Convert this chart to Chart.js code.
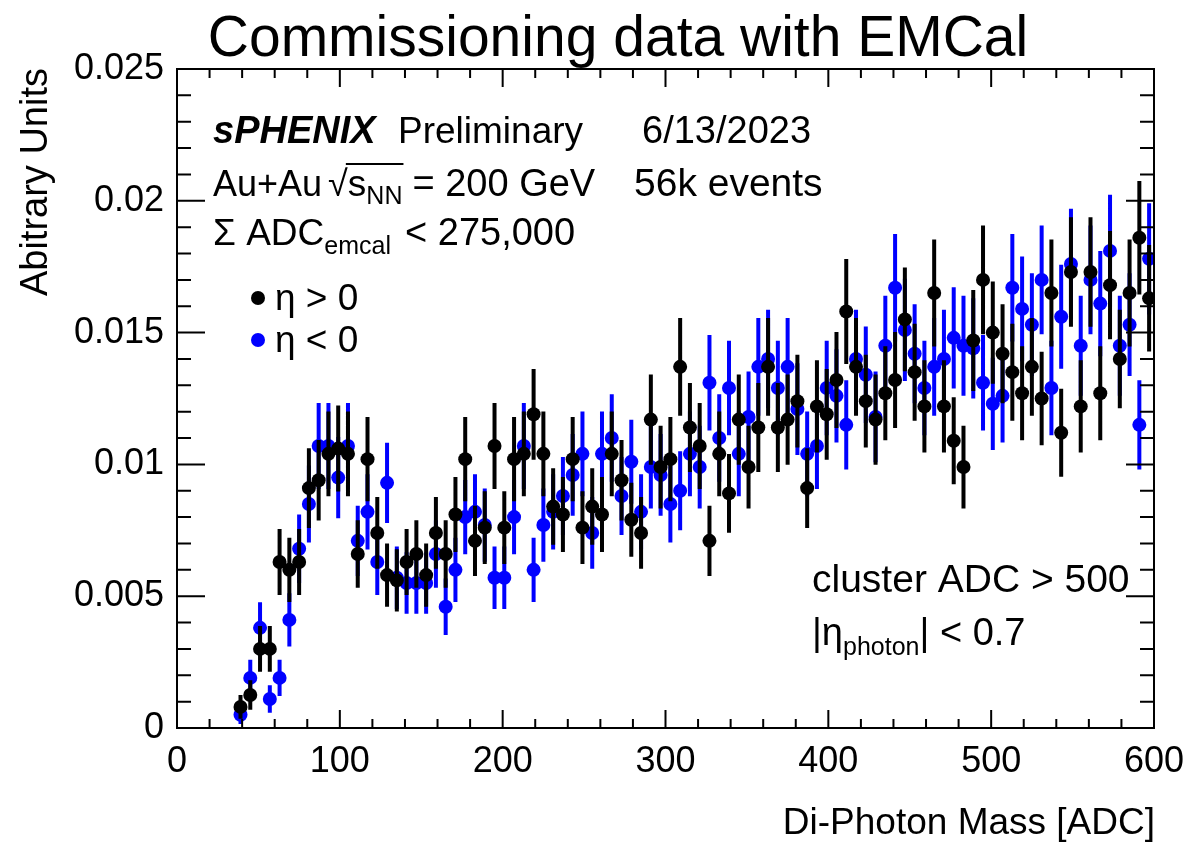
<!DOCTYPE html>
<html>
<head>
<meta charset="utf-8">
<title>Di-photon mass, sPHENIX commissioning</title>
<script src="https://cdn.jsdelivr.net/npm/chart.js@4.4.0/dist/chart.umd.min.js"></script>
<style>
  html, body { margin: 0; padding: 0; background: #fff; }
  canvas { display: block; }
</style>
</head>
<body>
<canvas id="diPhoton" width="1189" height="843"></canvas>
<script>
// bin centres, 6 ADC wide
const massBins = [39, 45, 51, 57, 63, 69, 75, 81, 87, 93,
  99, 105, 111, 117, 123, 129, 135, 141, 147, 153,
  159, 165, 171, 177, 183, 189, 195, 201, 207, 213,
  219, 225, 231, 237, 243, 249, 255, 261, 267, 273,
  279, 285, 291, 297, 303, 309, 315, 321, 327, 333,
  339, 345, 351, 357, 363, 369, 375, 381, 387, 393,
  399, 405, 411, 417, 423, 429, 435, 441, 447, 453,
  459, 465, 471, 477, 483, 489, 495, 501, 507, 513,
  519, 525, 531, 537, 543, 549, 555, 561, 567, 573,
  579, 585, 591, 597];

// eta > 0
const etaPos = [0.0008, 0.00125, 0.0030, 0.0030, 0.0063, 0.0060, 0.0063, 0.0091, 0.0094, 0.0104,
  0.0106, 0.0104, 0.0066, 0.0102, 0.0074, 0.0058, 0.0056, 0.0063, 0.0066, 0.0058,
  0.0074, 0.0066, 0.0081, 0.0102, 0.0071, 0.0076, 0.0107, 0.0076, 0.0102, 0.0104,
  0.0119, 0.0104, 0.0084, 0.0081, 0.0102, 0.0076, 0.0084, 0.0081, 0.0104, 0.0094,
  0.0079, 0.0074, 0.0117, 0.0099, 0.0102, 0.0137, 0.0114, 0.0107, 0.0071, 0.0104,
  0.0089, 0.0117, 0.0099, 0.0114, 0.0137, 0.0114, 0.0117, 0.0124, 0.0091, 0.0122,
  0.0119, 0.0132, 0.0158, 0.0137, 0.0124, 0.0117, 0.0127, 0.0132, 0.0155, 0.0135,
  0.0122, 0.0165, 0.0122, 0.0109, 0.0099, 0.0147, 0.0170, 0.0150, 0.0142, 0.0135,
  0.0127, 0.0137, 0.0125, 0.0165, 0.0112, 0.0173, 0.0122, 0.0173, 0.0127, 0.0168,
  0.0140, 0.0165, 0.0186, 0.0163];
const etaPosErr = [0.00045, 0.00056, 0.00087, 0.00087, 0.00125, 0.00122, 0.00125, 0.00151, 0.00153, 0.00161,
  0.00163, 0.00161, 0.00128, 0.0016, 0.00136, 0.0012, 0.00118, 0.00125, 0.00128, 0.0012,
  0.00136, 0.00128, 0.00142, 0.0016, 0.00133, 0.00138, 0.00163, 0.00138, 0.0016, 0.00161,
  0.00172, 0.00161, 0.00145, 0.00142, 0.0016, 0.00138, 0.00145, 0.00142, 0.00161, 0.00153,
  0.0014, 0.00136, 0.00171, 0.00157, 0.0016, 0.00185, 0.00169, 0.00163, 0.00133, 0.00161,
  0.00149, 0.00171, 0.00157, 0.00169, 0.00185, 0.00169, 0.00171, 0.00176, 0.00151, 0.00175,
  0.00172, 0.00182, 0.00199, 0.00185, 0.00176, 0.00171, 0.00178, 0.00182, 0.00197, 0.00184,
  0.00175, 0.00203, 0.00175, 0.00165, 0.00157, 0.00192, 0.00206, 0.00194, 0.00188, 0.00184,
  0.00178, 0.00185, 0.00177, 0.00203, 0.00167, 0.00208, 0.00175, 0.00208, 0.00178, 0.00205,
  0.00187, 0.00203, 0.00215, 0.00202];

// eta < 0
const etaNeg = [0.0005, 0.0019, 0.0038, 0.0011, 0.0019, 0.0041, 0.0068, 0.0085, 0.0107, 0.0107,
  0.0095, 0.0107, 0.0071, 0.0082, 0.0063, 0.0093, 0.0057, 0.0055, 0.0055, 0.0055,
  0.0066, 0.0046, 0.0060, 0.0080, 0.0082, 0.0077, 0.0057, 0.0057, 0.0080, 0.0107,
  0.0060, 0.0077, 0.0082, 0.0088, 0.0096, 0.0104, 0.0074, 0.0104, 0.0110, 0.0088,
  0.0101, 0.0082, 0.0099, 0.0096, 0.0085, 0.0090, 0.0104, 0.0099, 0.0131, 0.0110,
  0.0129, 0.0104, 0.0118, 0.0137, 0.0140, 0.0129, 0.0137, 0.0121, 0.0104, 0.0107,
  0.0129, 0.0126, 0.0115, 0.0140, 0.0134, 0.0118, 0.0145, 0.0167, 0.0151, 0.0142,
  0.0129, 0.0137, 0.0140, 0.0148, 0.0145, 0.0144, 0.0131, 0.0123, 0.0126, 0.0167,
  0.0159, 0.0153, 0.0170, 0.0129, 0.0156, 0.0176, 0.0145, 0.0170, 0.0161, 0.0181,
  0.0145, 0.0153, 0.0115, 0.0178];
const etaNegErr = [0.00035, 0.00069, 0.00097, 0.00052, 0.00069, 0.00101, 0.0013, 0.00146, 0.00163, 0.00163,
  0.00154, 0.00163, 0.00133, 0.00143, 0.00125, 0.00152, 0.00119, 0.00117, 0.00117, 0.00117,
  0.00128, 0.00107, 0.00122, 0.00141, 0.00143, 0.00139, 0.00119, 0.00119, 0.00141, 0.00163,
  0.00122, 0.00139, 0.00143, 0.00148, 0.00155, 0.00161, 0.00136, 0.00161, 0.00166, 0.00148,
  0.00159, 0.00143, 0.00157, 0.00155, 0.00146, 0.0015, 0.00161, 0.00157, 0.00181, 0.00166,
  0.00179, 0.00161, 0.00172, 0.00185, 0.00187, 0.00179, 0.00185, 0.00174, 0.00161, 0.00163,
  0.00179, 0.00177, 0.00169, 0.00187, 0.00183, 0.00172, 0.0019, 0.00204, 0.00194, 0.00188,
  0.00179, 0.00185, 0.00187, 0.00192, 0.0019, 0.0019, 0.00181, 0.00175, 0.00177, 0.00204,
  0.00199, 0.00195, 0.00206, 0.00179, 0.00197, 0.0021, 0.0019, 0.00206, 0.002, 0.00213,
  0.0019, 0.00195, 0.00169, 0.00211];

const FONT = '"Liberation Sans", Arial, Helvetica, sans-serif';
const font = (size, style) => (style ? style + ' ' : '') + size + 'px ' + FONT;

// vertical stat. error bars, drawn just under each dataset's markers
const errorBars = {
  id: 'errorBars',
  beforeDatasetDraw(chart, args) {
    const ds = chart.data.datasets[args.index];
    const y = chart.scales.y;
    const ctx = chart.ctx;
    ctx.save();
    ctx.strokeStyle = ds.borderColor;
    ctx.lineWidth = 4;
    ctx.beginPath();
    args.meta.data.forEach((pt, i) => {
      const v = ds.data[i].y;
      const e = ds.errors[i];
      ctx.moveTo(pt.x, y.getPixelForValue(v - e));
      ctx.lineTo(pt.x, y.getPixelForValue(v + e));
    });
    ctx.stroke();
    ctx.restore();
  }
};

// closed frame with inward ticks on all four sides
const rootFrame = {
  id: 'rootFrame',
  afterDraw(chart) {
    const { ctx, chartArea: a, scales: { x, y } } = chart;
    ctx.save();
    ctx.strokeStyle = '#000';
    ctx.lineWidth = 2;
    ctx.strokeRect(a.left, a.top, a.right - a.left, a.bottom - a.top);
    ctx.beginPath();
    for (let m = 0; m <= 600; m += 20) {
      const px = x.getPixelForValue(m);
      const len = m % 100 === 0 ? 18 : 9;
      ctx.moveTo(px, a.bottom); ctx.lineTo(px, a.bottom - len);
      ctx.moveTo(px, a.top); ctx.lineTo(px, a.top + len);
    }
    for (let k = 0; k <= 25; k++) {
      const py = y.getPixelForValue(k / 1000);
      const len = k % 5 === 0 ? 28 : 14;
      ctx.moveTo(a.left, py); ctx.lineTo(a.left + len, py);
      ctx.moveTo(a.right, py); ctx.lineTo(a.right - len, py);
    }
    ctx.stroke();
    ctx.restore();
  }
};

function drawRuns(ctx, x, y, runs) {
  runs.forEach(r => {
    ctx.font = r.font;
    ctx.fillText(r.text, x + (r.dx || 0), y + (r.dy || 0));
    x += (r.dx || 0) + ctx.measureText(r.text).width;
  });
  return x;
}

// title, axis titles, legend and the labels inside the frame
const annotations = {
  id: 'annotations',
  afterDraw(chart) {
    const ctx = chart.ctx;
    const sets = chart.data.datasets;
    ctx.save();
    ctx.fillStyle = '#000';
    ctx.strokeStyle = '#000';
    ctx.textBaseline = 'alphabetic';

    ctx.textAlign = 'center';
    ctx.font = font(57);
    ctx.fillText('Commissioning data with EMCal', 618, 56);

    ctx.textAlign = 'right';
    ctx.font = font(37);
    ctx.fillText('Di-Photon Mass [ADC]', 1155, 834);
    ctx.save();
    ctx.translate(47, 68);
    ctx.rotate(-Math.PI / 2);
    ctx.font = font(38);
    ctx.fillText('Abitrary Units', 0, 0);
    ctx.restore();

    ctx.textAlign = 'left';
    ctx.font = font(38, 'italic bold');
    ctx.fillText('sPHENIX', 213, 143);
    ctx.font = font(37);
    ctx.fillText('Preliminary', 398, 143);
    ctx.font = font(38);
    ctx.fillText('6/13/2023', 642, 143);

    // Au+Au, sqrt(s_NN) with an overbar
    const rootX = drawRuns(ctx, 213, 196, [{ text: 'Au+Au', font: font(36) }]) + 6;
    ctx.font = font(36);
    ctx.fillText('\u221A', rootX, 196);
    const sX = rootX + ctx.measureText('\u221A').width;
    const endX = drawRuns(ctx, sX, 196, [
      { text: 's', font: font(37) },
      { text: 'NN', font: font(25), dy: 8 }
    ]);
    ctx.lineWidth = 2;
    ctx.beginPath();
    ctx.moveTo(sX - 2, 164);
    ctx.lineTo(endX + 1, 164);
    ctx.stroke();
    ctx.font = font(38);
    ctx.fillText('= 200 GeV', endX + 10, 196);
    ctx.font = font(39);
    ctx.fillText('56k events', 634, 196);

    drawRuns(ctx, 213, 245, [
      { text: '\u03A3 ADC', font: font(37) },
      { text: 'emcal', font: font(25), dy: 9 }
    ]);
    ctx.font = font(38);
    ctx.fillText('< 275,000', 405, 245);

    // legend
    [[298, '\u03B7 > 0'], [340, '\u03B7 < 0']].forEach(([ly, txt], i) => {
      ctx.fillStyle = sets[i].backgroundColor;
      ctx.beginPath();
      ctx.arc(258, ly, 7, 0, Math.PI * 2);
      ctx.fill();
      ctx.fillStyle = '#000';
      ctx.font = font(37);
      ctx.fillText(txt, 275, ly + 12);
    });

    ctx.font = font(39);
    ctx.fillText('cluster ADC > 500', 812, 592);
    drawRuns(ctx, 812, 645, [
      { text: '|\u03B7', font: font(38) },
      { text: 'photon', font: font(25), dy: 10 },
      { text: '| < 0.7', font: font(38) }
    ]);
    ctx.restore();
  }
};

new Chart(document.getElementById('diPhoton'), {
  type: 'scatter',
  data: {
    datasets: [
      {
        label: '\u03B7 > 0',
        data: massBins.map((m, i) => ({ x: m, y: etaPos[i] })),
        errors: etaPosErr,
        backgroundColor: '#000000',
        borderColor: '#000000',
        pointRadius: 7,
        pointBorderWidth: 0,
      },
      {
        label: '\u03B7 < 0',
        data: massBins.map((m, i) => ({ x: m, y: etaNeg[i] })),
        errors: etaNegErr,
        backgroundColor: '#0000ff',
        borderColor: '#0000ff',
        pointRadius: 7,
        pointBorderWidth: 0,
      },
    ],
  },
  options: {
    responsive: false,
    animation: false,
    events: [],
    layout: { padding: { left: 0, top: 69, right: 35, bottom: 0 } },
    plugins: { legend: { display: false }, tooltip: { enabled: false } },
    scales: {
      x: {
        type: 'linear',
        min: 0,
        max: 600,
        afterFit: s => { s.height = 115; },
        grid: { display: false },
        border: { display: false },
        ticks: { stepSize: 100, autoSkip: false, maxRotation: 0, padding: 4, color: '#000', font: { family: FONT, size: 36 } },
      },
      y: {
        type: 'linear',
        min: 0,
        max: 0.025,
        afterFit: s => { s.width = 177; },
        grid: { display: false },
        border: { display: false },
        ticks: {
          stepSize: 0.005,
          padding: 5,
          color: '#000',
          font: { family: FONT, size: 36 },
          callback: v => String(+v.toFixed(3)),
        },
      },
    },
  },
  plugins: [errorBars, rootFrame, annotations],
});
</script>
</body>
</html>
